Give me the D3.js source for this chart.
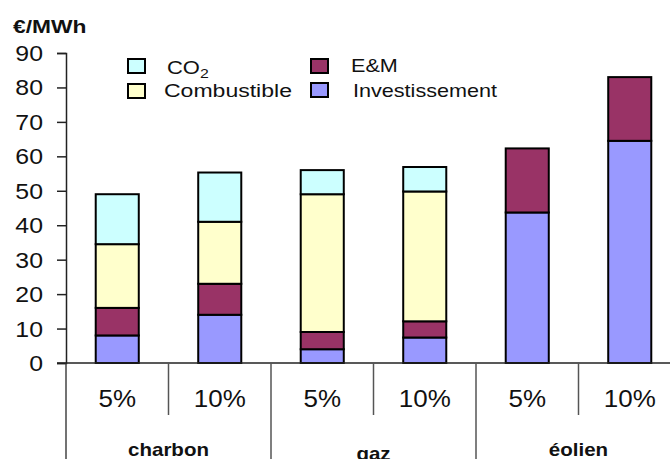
<!DOCTYPE html>
<html>
<head>
<meta charset="utf-8">
<script src="https://cdn.jsdelivr.net/npm/d3@7"></script>
<style>
  html, body { margin: 0; padding: 0; background: #fff; }
  svg { display: block; font-family: "Liberation Sans", Arial, sans-serif; }
</style>
</head>
<body>
<svg id="chart" width="670" height="459"></svg>
<script>
// Coût de production de l'électricité par filière et taux d'actualisation
const groups = ["charbon", "gaz", "éolien"];
const rates = ["5%", "10%"];
const seriesNames = ["Investissement", "E&M", "Combustible", "CO2"];
const investissement = [8, 14, 4, 7.4, 43.7, 64.5];
const emValues = [8, 9, 5, 4.7, 18.6, 18.5];
const combustible = [18.5, 18, 40, 37.7, 0, 0];
const co2 = [14.5, 14.3, 7, 7.1, 0, 0];
const yTicks = [0, 10, 20, 30, 40, 50, 60, 70, 80, 90];

const colors = {
  "Investissement": "#9999ff",
  "E&M": "#993366",
  "Combustible": "#ffffcc",
  "CO2": "#ccffff"
};

// One row per bar (groupe × taux)
const rows = [];
groups.forEach((g, gi) => rates.forEach((r, ri) => {
  const i = gi * rates.length + ri;
  rows.push({
    key: g + "|" + r, group: g, rate: r,
    "Investissement": investissement[i],
    "E&M": emValues[i],
    "Combustible": combustible[i],
    "CO2": co2[i]
  });
}));

const svg = d3.select("#chart");
const plotLeft = 66, plotRight = 681, plotTop = 53, plotBottom = 363;

const slot = d3.scaleBand().domain(rows.map(d => d.key)).range([plotLeft, plotRight]);
const x = d3.scaleBand().domain(rows.map(d => d.key)).range([plotLeft, plotRight])
  .paddingInner(0.58).paddingOuter(0.29);
const y = d3.scaleLinear().domain([0, 90]).range([plotBottom, plotTop]);

// Stretched text helper (wide sans rendering)
function label(parent, tx, ty, text, opts) {
  const o = Object.assign({size: 22, sx: 1.13, anchor: "start", weight: "normal"}, opts || {});
  return parent.append("text")
    .attr("transform", `translate(${tx},${ty}) scale(${o.sx},1)`)
    .attr("text-anchor", o.anchor)
    .attr("font-size", o.size)
    .attr("font-weight", o.weight)
    .attr("fill", "#111")
    .text(text);
}

// Stacked bars
const stack = d3.stack().keys(seriesNames);
const layers = stack(rows);
svg.append("g").selectAll("g")
  .data(layers)
  .join("g")
  .attr("fill", d => colors[d.key])
  .selectAll("rect")
  .data(d => d.filter(s => s[1] - s[0] > 0))
  .join("rect")
  .attr("x", d => x(d.data.key))
  .attr("width", x.bandwidth())
  .attr("y", d => y(d[1]))
  .attr("height", d => y(d[0]) - y(d[1]))
  .attr("stroke", "#000")
  .attr("stroke-width", 2);

// Y axis
const yAxis = svg.append("g")
  .attr("transform", `translate(${plotLeft},0)`)
  .call(d3.axisLeft(y).tickValues(yTicks).tickSize(9).tickFormat(d3.format("d")));
yAxis.select(".domain").attr("stroke", "#222").attr("stroke-width", 1.5);
yAxis.selectAll(".tick line").attr("stroke", "#222").attr("stroke-width", 1.5);
yAxis.selectAll(".tick text").remove();
yTicks.forEach(v => {
  label(svg, plotLeft - 23, y(v) + 8, String(v), {size: 22, sx: 1.13, anchor: "end"});
});

// Y axis extends down through the category area
svg.append("line").attr("x1", plotLeft).attr("x2", plotLeft)
  .attr("y1", plotBottom).attr("y2", 459).attr("stroke", "#444").attr("stroke-width", 1.5);

// X axis baseline
svg.append("line").attr("x1", plotLeft - 9).attr("x2", 670)
  .attr("y1", plotBottom).attr("y2", plotBottom).attr("stroke", "#222").attr("stroke-width", 1.5);

// Separators between bars (short) and groups (long)
rows.forEach((d, i) => {
  if (i === 0) return;
  const sx = slot(d.key);
  const isGroup = i % rates.length === 0;
  svg.append("line")
    .attr("x1", sx).attr("x2", sx)
    .attr("y1", plotBottom).attr("y2", isGroup ? 459 : 415)
    .attr("stroke", "#555").attr("stroke-width", 1.5);
});

// Rate labels
rows.forEach(d => {
  label(svg, slot(d.key) + slot.bandwidth() / 2, 407, d.rate, {size: 23, sx: 1.13, anchor: "middle"});
});

// Group labels (the middle one sits slightly lower)
groups.forEach((g, gi) => {
  const keys = rows.filter(d => d.group === g).map(d => d.key);
  const x0 = slot(keys[0]), x1 = slot(keys[keys.length - 1]) + slot.bandwidth();
  const baseY = gi === 1 ? 460 : 456;
  label(svg, (x0 + x1) / 2, baseY, g, {size: 18, sx: 1.14, anchor: "middle", weight: "bold"});
});

// Unit label
label(svg, 13, 33, "€/MWh", {size: 19, sx: 1.2, weight: "bold"});

// Legend
const legendItems = [
  {key: "CO2", bx: 128, by: 59, tx: 167, ty: 74},
  {key: "Combustible", bx: 128, by: 84, tx: 164, ty: 97},
  {key: "E&M", bx: 311, by: 59, tx: 351, ty: 72},
  {key: "Investissement", bx: 311, by: 83, tx: 353, ty: 97}
];
const legend = svg.append("g");
legendItems.forEach(it => {
  legend.append("rect")
    .attr("x", it.bx).attr("y", it.by).attr("width", 17).attr("height", 14)
    .attr("fill", colors[it.key]).attr("stroke", "#000").attr("stroke-width", 2);
  if (it.key === "CO2") {
    const t = label(legend, it.tx, it.ty, "CO", {size: 18, sx: 1.22});
    t.append("tspan").attr("font-size", 13).attr("dy", 4).text("2");
  } else {
    label(legend, it.tx, it.ty, it.key, {size: 18, sx: it.key === "Combustible" ? 1.28 : 1.2});
  }
});
</script>
</body>
</html>
